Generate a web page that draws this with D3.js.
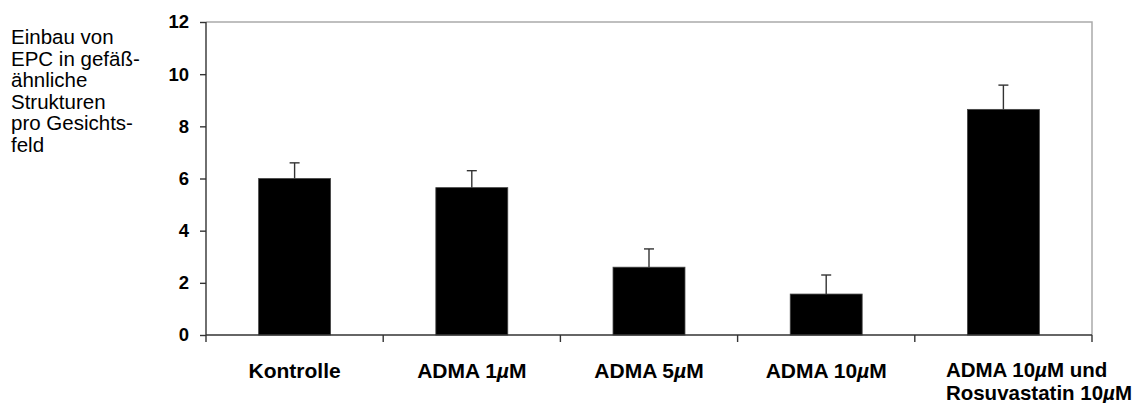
<!DOCTYPE html>
<html>
<head>
<meta charset="utf-8">
<script src="https://cdn.jsdelivr.net/npm/d3@7"></script>
<style>
  body { margin: 0; background: #fff; }
  svg text { font-family: "Liberation Sans", Arial, Helvetica, sans-serif; }
</style>
</head>
<body>
<div id="chart"></div>
<script>
// Daten
var kategorien = ['Kontrolle', 'ADMA 1µM', 'ADMA 5µM', 'ADMA 10µM', 'ADMA 10µM und|Rosuvastatin 10µM'];
var werte = [6.0, 5.65, 2.6, 1.57, 8.65];
var fehler = [0.6, 0.65, 0.7, 0.73, 0.93];
var yTicks = [0, 2, 4, 6, 8, 10, 12];
var yTitel = ['Einbau von', 'EPC in gefäß-', 'ähnliche', 'Strukturen', 'pro Gesichts-', 'feld'];

var W = 1132, H = 403;
var margin = { top: 22, right: 40, bottom: 68, left: 206 },
  width = W - margin.left - margin.right,
  height = H - margin.top - margin.bottom;

var svg = d3.select('#chart').append('svg')
  .attr('width', W)
  .attr('height', H);

// Y-Titel links
var titel = svg.append('text')
  .attr('x', 11)
  .attr('y', 44)
  .style('font-size', '20.5px')
  .style('fill', '#000');
titel.selectAll('tspan').data(yTitel).enter().append('tspan')
  .attr('x', 11)
  .attr('dy', function (d, i) { return i === 0 ? 0 : 21.5; })
  .text(function (d) { return d; });

var g = svg.append('g')
  .attr('transform', 'translate(' + margin.left + ',' + margin.top + ')');

// Skalen
var x = d3.scaleBand().domain(d3.range(kategorien.length)).range([0, width])
  .paddingInner(0.594).paddingOuter(0.297);
var y = d3.scaleLinear().domain([0, 12]).range([height, 0]);

// Rahmen oben und rechts (grau)
g.append('path')
  .attr('d', 'M0,' + y(12) + 'H' + width + 'V' + height)
  .attr('fill', 'none')
  .attr('stroke', '#aaa')
  .attr('stroke-width', 1.5);

// Balken
g.selectAll('rect.balken').data(werte).enter().append('rect')
  .attr('class', 'balken')
  .attr('x', function (d, i) { return x(i); })
  .attr('y', function (d) { return y(d); })
  .attr('width', x.bandwidth())
  .attr('height', function (d) { return y(0) - y(d); })
  .attr('fill', '#000')
  .attr('stroke', '#444')
  .attr('stroke-width', 0.8);

// Fehlerbalken
var fb = g.selectAll('g.fehler').data(werte).enter().append('g')
  .attr('class', 'fehler')
  .attr('transform', function (d, i) { return 'translate(' + (x(i) + x.bandwidth() / 2) + ',0)'; });
fb.append('line')
  .attr('x1', 0).attr('x2', 0)
  .attr('y1', function (d) { return y(d); })
  .attr('y2', function (d, i) { return y(d + fehler[i]); })
  .attr('stroke', '#333').attr('stroke-width', 1.4);
fb.append('line')
  .attr('x1', -5).attr('x2', 5)
  .attr('y1', function (d, i) { return y(d + fehler[i]); })
  .attr('y2', function (d, i) { return y(d + fehler[i]); })
  .attr('stroke', '#333').attr('stroke-width', 1.4);

// Y-Achse
var yAchse = g.append('g')
  .call(d3.axisLeft(y).tickValues(yTicks).tickSize(6).tickPadding(11));
yAchse.select('.domain').attr('stroke', '#333').attr('stroke-width', 1.4)
  .attr('d', 'M0,' + y(0) + 'V' + y(12));
yAchse.selectAll('.tick line').attr('stroke', '#333').attr('stroke-width', 1.4);
yAchse.selectAll('.tick text')
  .style('font-size', '18.5px')
  .style('font-weight', 'bold')
  .style('fill', '#000');

// X-Achse mit Strichen zwischen den Kategorien
var schritt = x.step();
var grenzen = d3.range(kategorien.length + 1).map(function (i) { return x(0) - schritt * x.paddingInner() / 2 + i * schritt; });
g.append('line')
  .attr('x1', 0).attr('x2', width)
  .attr('y1', y(0)).attr('y2', y(0))
  .attr('stroke', '#333').attr('stroke-width', 1.4);
g.selectAll('line.xtick').data(grenzen).enter().append('line')
  .attr('class', 'xtick')
  .attr('x1', function (d) { return d; }).attr('x2', function (d) { return d; })
  .attr('y1', y(0)).attr('y2', y(0) + 7)
  .attr('stroke', '#333').attr('stroke-width', 1.4);

// Kategorie-Beschriftungen, µ kursiv
function schreibe(el, txt) {
  var teile = txt.split('µ');
  var s = '';
  teile.forEach(function (t, k) {
    if (k > 0) s += '<tspan font-style="italic">µ</tspan>';
    s += t;
  });
  el.html(s);
}
kategorien.forEach(function (k, i) {
  var zeilen = k.split('|');
  var cx = x(i) + x.bandwidth() / 2;
  var fs = zeilen.length === 1 ? 21 : 20.5;
  zeilen.forEach(function (z, j) {
    var t = g.append('text')
      .attr('class', 'xlabel')
      .attr('x', cx)
      .attr('y', y(0) + (zeilen.length === 1 ? 43 : 42) + j * 23)
      .style('font-size', fs + 'px')
      .style('font-weight', 'bold')
      .style('fill', '#000')
      .attr('text-anchor', zeilen.length === 1 ? 'middle' : 'start');
    schreibe(t, z);
  });
  if (zeilen.length > 1) {
    // mehrzeilig: linksbündig, rechts an den Bildrand geschoben
    var texte = g.selectAll('text.xlabel').filter(function () { return this.getAttribute('text-anchor') === 'start'; });
    var breiten = texte.nodes().map(function (n) { return n.getComputedTextLength(); });
    var links = Math.max(cx - breiten[0] / 2, W - margin.left - d3.max(breiten));
    texte.attr('x', links);
  }
});
</script>
</body>
</html>
